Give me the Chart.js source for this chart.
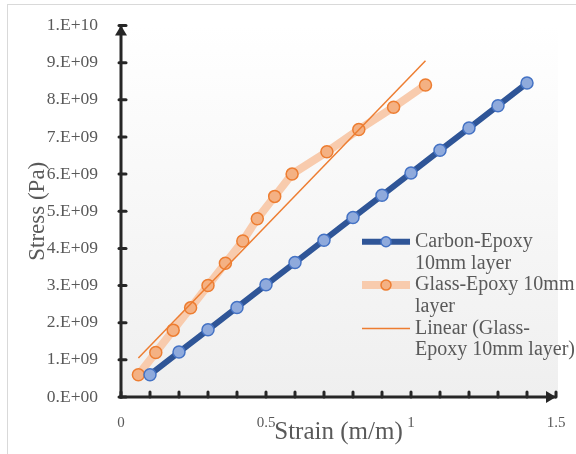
<!DOCTYPE html>
<html>
<head>
<meta charset="utf-8">
<script src="https://cdn.jsdelivr.net/npm/chart.js@4/dist/chart.umd.min.js"></script>
<style>
  html, body { margin: 0; padding: 0; background: #fff; }
  #wrap { width: 576px; height: 454px; }
</style>
</head>
<body>
<div id="wrap"><canvas id="stressChart" width="576" height="454"></canvas></div>
<script>
// Carbon-Epoxy 10mm layer
const carbonStrain = [0.1, 0.2, 0.3, 0.4, 0.5, 0.6, 0.7, 0.8, 0.9, 1.0, 1.1, 1.2, 1.3, 1.4];
const carbonStress = [0.60e9, 1.21e9, 1.81e9, 2.41e9, 3.02e9, 3.62e9, 4.22e9, 4.83e9, 5.43e9, 6.03e9, 6.64e9, 7.24e9, 7.84e9, 8.45e9];

// Glass-Epoxy 10mm layer
const glassStrain = [0.06, 0.12, 0.18, 0.24, 0.30, 0.36, 0.42, 0.47, 0.53, 0.59, 0.71, 0.82, 0.94, 1.05];
const glassStress = [0.6e9, 1.2e9, 1.8e9, 2.4e9, 3.0e9, 3.6e9, 4.2e9, 4.8e9, 5.4e9, 6.0e9, 6.6e9, 7.2e9, 7.8e9, 8.4e9];

// linear trendline of the glass series (end points)
const trendStrain = [0.06, 1.05];
const trendStress = [1.05e9, 9.05e9];

const seriesNames = [
  ['Carbon-Epoxy', '10mm layer'],
  ['Glass-Epoxy 10mm', 'layer'],
  ['Linear (Glass-', 'Epoxy 10mm layer)']
];

const xTitle = 'Strain (m/m)';
const yTitle = 'Stress (Pa)';
const xMin = 0, xMax = 1.5, xStep = 0.1, xLabelStep = 0.5;
const yMin = 0, yMax = 1e10, yStep = 1e9;

const textColor = '#595959';
const axisColor = '#262626';
const serif = '"Liberation Serif", "Times New Roman", serif';

function toPoints(xs, ys) {
  return xs.map((x, i) => ({ x: x, y: ys[i] }));
}

// 1e9 -> "1.E+09"
function sciLabel(v) {
  if (v === 0) return '0.E+00';
  const exp = Math.floor(Math.log10(v) + 1e-9);
  const mant = Math.round(v / Math.pow(10, exp));
  return mant + '.E+' + String(exp).padStart(2, '0');
}

function strokeLine(ctx, x1, y1, x2, y2) {
  ctx.beginPath();
  ctx.moveTo(x1, y1);
  ctx.lineTo(x2, y2);
  ctx.stroke();
}

// background, plot fill, axes with arrows
const frameAndAxes = {
  id: 'frameAndAxes',
  beforeDraw(chart) {
    const ctx = chart.ctx;
    const area = chart.chartArea;
    ctx.save();
    ctx.fillStyle = '#ffffff';
    ctx.fillRect(0, 0, chart.width, chart.height);
    ctx.strokeStyle = '#d9d9d9';
    ctx.lineWidth = 1;
    ctx.strokeRect(7.5, 4.5, chart.width, chart.height);
    const grad = ctx.createLinearGradient(0, area.top, 0, area.bottom);
    grad.addColorStop(0, '#ffffff');
    grad.addColorStop(1, '#efefef');
    ctx.fillStyle = grad;
    ctx.fillRect(area.left, area.top, area.right + 2 - area.left, area.bottom - area.top);
    ctx.restore();
  },
  beforeDatasetsDraw(chart) {
    const ctx = chart.ctx;
    const xs = chart.scales.x, ys = chart.scales.y;
    const x0 = xs.getPixelForValue(xMin), y0 = ys.getPixelForValue(yMin);
    const xEnd = xs.getPixelForValue(xMax), yEnd = ys.getPixelForValue(yMax);
    ctx.save();
    ctx.strokeStyle = axisColor;
    ctx.fillStyle = axisColor;
    ctx.lineCap = 'round';
    ctx.lineWidth = 3;

    ys.ticks.forEach(t => {
      const py = ys.getPixelForValue(t.value);
      strokeLine(ctx, x0 - 2, py, x0 + 5, py);
    });
    xs.ticks.forEach(t => {
      const px = xs.getPixelForValue(t.value);
      strokeLine(ctx, px, y0 - 5, px, y0);
    });

    ctx.lineCap = 'butt';
    strokeLine(ctx, x0, y0 + 1.5, x0, yEnd);
    strokeLine(ctx, x0 - 1.5, y0, xEnd, y0);

    // arrow heads
    ctx.beginPath();
    ctx.moveTo(x0, yEnd);
    ctx.lineTo(x0 - 6, yEnd + 10);
    ctx.lineTo(x0 + 6, yEnd + 10);
    ctx.closePath();
    ctx.fill();
    ctx.beginPath();
    ctx.moveTo(xEnd, y0);
    ctx.lineTo(xEnd - 10, y0 - 6);
    ctx.lineTo(xEnd - 10, y0 + 6);
    ctx.closePath();
    ctx.fill();
    ctx.restore();
  }
};

// two-line legend entries inside the plot
const wrappedLegend = {
  id: 'wrappedLegend',
  afterDraw(chart) {
    const ctx = chart.ctx;
    const left = 362, sampleW = 48, textX = 415;
    const lineH = 21.7;
    let y = 241.7;
    ctx.save();
    ctx.font = '20px ' + serif;
    ctx.fillStyle = textColor;
    ctx.textBaseline = 'middle';
    chart.data.datasets.forEach((ds, i) => {
      ctx.strokeStyle = ds.borderColor;
      ctx.lineWidth = ds.borderWidth;
      strokeLine(ctx, left, y, left + sampleW, y);
      if (ds.pointRadius > 0) {
        ctx.beginPath();
        ctx.arc(left + sampleW / 2, y, 5, 0, Math.PI * 2);
        ctx.fillStyle = ds.pointBackgroundColor;
        ctx.fill();
        ctx.lineWidth = 1.5;
        ctx.strokeStyle = ds.pointBorderColor;
        ctx.stroke();
      }
      ctx.fillStyle = textColor;
      seriesNames[i].forEach((s, k) => {
        ctx.fillText(s, textX, y + k * lineH);
      });
      y += lineH * seriesNames[i].length;
    });
    ctx.restore();
  }
};

new Chart(document.getElementById('stressChart'), {
  type: 'scatter',
  data: {
    datasets: [
      {
        data: toPoints(carbonStrain, carbonStress),
        showLine: true,
        borderColor: '#2F5597',
        borderWidth: 6,
        pointRadius: 6,
        pointBackgroundColor: '#8FAADC',
        pointBorderColor: '#4472C4',
        pointBorderWidth: 1.5,
        order: 0
      },
      {
        data: toPoints(glassStrain, glassStress),
        showLine: true,
        borderColor: '#F8CBAD',
        borderWidth: 8,
        pointRadius: 6,
        pointBackgroundColor: '#F4B183',
        pointBorderColor: '#ED7D31',
        pointBorderWidth: 1.5,
        order: 2
      },
      {
        data: toPoints(trendStrain, trendStress),
        showLine: true,
        borderColor: '#ED7D31',
        borderWidth: 1.5,
        pointRadius: 0,
        order: 1
      }
    ]
  },
  options: {
    responsive: false,
    animation: false,
    layout: { padding: { top: 24, right: 20, left: 0, bottom: 0 } },
    plugins: {
      legend: { display: false },
      tooltip: { enabled: false }
    },
    scales: {
      x: {
        type: 'linear',
        min: xMin,
        max: xMax,
        grid: { display: false },
        border: { display: false },
        afterFit(scale) { scale.height = 57; },
        afterBuildTicks(scale) {
          const ticks = [];
          for (let i = 0; i <= Math.round((xMax - xMin) / xStep); i++) {
            ticks.push({ value: +(xMin + i * xStep).toFixed(4) });
          }
          scale.ticks = ticks;
        },
        ticks: {
          padding: 9,
          maxRotation: 0,
          autoSkip: false,
          color: textColor,
          font: { family: serif, size: 15 },
          callback(v) {
            const r = v / xLabelStep;
            return Math.abs(r - Math.round(r)) < 1e-6 ? String(+v.toFixed(2)) : '';
          }
        },
        title: {
          display: true,
          text: xTitle,
          color: textColor,
          font: { family: serif, size: 25 },
          padding: { top: 0, bottom: 7 }
        }
      },
      y: {
        type: 'linear',
        min: yMin,
        max: yMax,
        grid: { display: false },
        border: { display: false },
        afterFit(scale) { scale.width = 121; },
        ticks: {
          stepSize: yStep,
          padding: 15,
          color: textColor,
          font: { family: serif, size: 17.5 },
          callback(v) { return sciLabel(v); }
        },
        title: {
          display: true,
          text: yTitle,
          color: textColor,
          font: { family: serif, size: 23 },
          padding: { top: 24, bottom: 0 }
        }
      }
    }
  },
  plugins: [frameAndAxes, wrappedLegend]
});
</script>
</body>
</html>
